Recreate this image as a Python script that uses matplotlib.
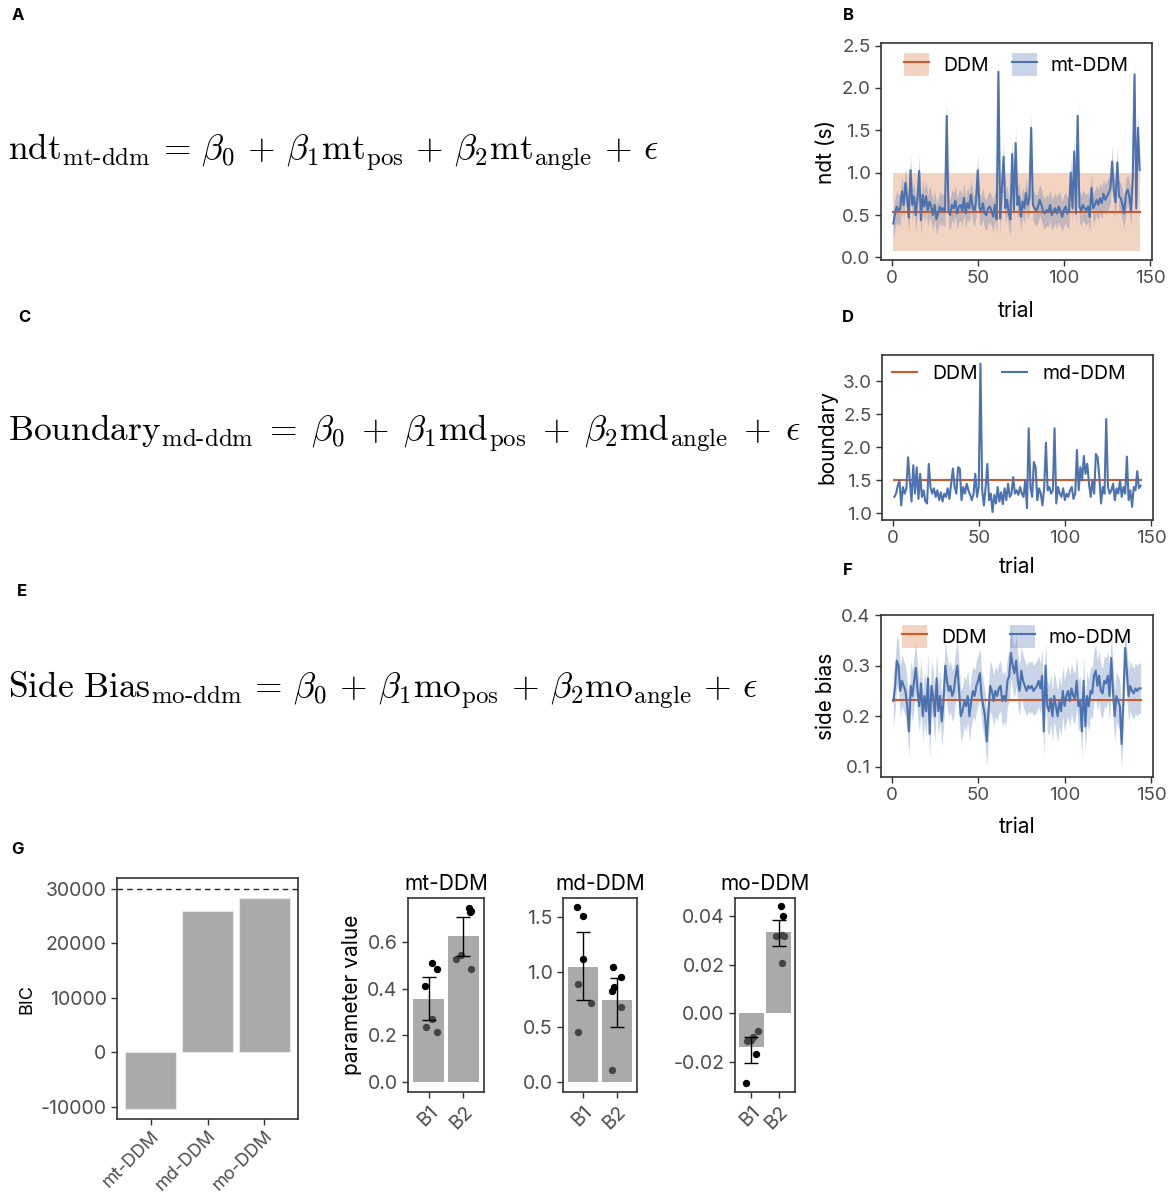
import numpy as np
import matplotlib.pyplot as plt
from matplotlib.patches import Patch
from matplotlib.lines import Line2D

plt.rcParams['font.family'] = ['Inter', 'DejaVu Sans']
plt.rcParams['mathtext.fontset'] = 'cm'
plt.rcParams['axes.unicode_minus'] = False

# ---------------- data ----------------
trials = np.arange(1, 145)

ndt_ddm = 0.54
ndt_ddm_lo, ndt_ddm_hi = 0.08, 1.0
ndt_mt = [0.40, 0.52, 0.60, 0.55, 0.58, 0.78, 0.62, 0.88, 0.70, 0.47,
          1.03, 0.62, 0.72, 0.50, 0.70, 1.02, 0.44, 0.74, 0.60, 0.72,
          0.55, 0.66, 0.60, 0.50, 0.62, 0.45, 0.52, 0.60, 0.55, 0.58,
          0.54, 1.67, 0.55, 0.50, 0.62, 0.58, 0.67, 0.52, 0.60, 0.62,
          0.55, 0.70, 0.52, 0.64, 0.58, 0.74, 0.60, 0.54, 0.66, 1.03,
          0.58, 0.55, 0.64, 0.52, 0.50, 0.58, 0.60, 0.55, 0.48, 0.62,
          0.45, 2.19, 0.46, 0.80, 1.19, 0.58, 0.68, 0.52, 0.45, 1.22,
          0.56, 1.35, 0.62, 0.72, 0.48, 0.66, 0.58, 0.76, 0.62, 0.70,
          1.53, 0.62, 0.58, 0.55, 0.60, 0.68, 0.62, 0.54, 0.52, 0.56,
          0.54, 0.62, 0.50, 0.55, 0.58, 0.52, 0.60, 0.55, 0.48, 0.56,
          0.60, 0.52, 0.55, 1.00, 0.58, 1.25, 0.52, 1.67, 0.60, 0.55,
          0.62, 0.58, 0.56, 0.60, 0.48, 0.82, 0.58, 0.62, 0.68, 0.62,
          0.70, 0.64, 0.75, 0.68, 0.72, 0.76, 0.82, 1.13, 0.78, 0.65,
          1.12, 0.72, 0.70, 0.62, 0.52, 0.75, 0.80, 0.72, 0.55, 0.96,
          2.16, 0.58, 1.53, 1.03]
ndt_mt_ci = 0.18

bound_ddm = 1.5
bound_md = [1.25, 1.30, 1.42, 1.50, 1.12, 1.40, 1.30, 1.38, 1.85, 1.50,
            1.18, 1.73, 1.30, 1.70, 1.22, 1.60, 1.25, 1.35, 1.18, 1.15,
            1.75, 1.40, 1.30, 1.38, 1.25, 1.35, 1.20, 1.32, 1.18, 1.30,
            1.25, 1.38, 1.22, 1.45, 1.68, 1.40, 1.30, 1.70, 1.68, 1.20,
            1.40, 1.30, 1.45, 1.35, 1.28, 1.20, 1.30, 1.60, 1.25, 1.40,
            3.27, 1.35, 1.12, 1.40, 1.75, 1.20, 1.30, 1.02, 1.28, 1.15,
            1.40, 1.18, 1.32, 1.14, 1.38, 1.20, 1.45, 1.25, 1.30, 1.55,
            1.30, 1.35, 1.28, 1.40, 1.30, 1.25, 1.50, 1.08, 2.29, 1.40,
            1.25, 1.78, 1.70, 1.20, 1.38, 1.30, 1.12, 1.40, 2.07, 1.35,
            1.40, 1.30, 1.35, 2.29, 1.15, 1.40, 1.30, 1.25, 1.38, 1.20,
            1.30, 1.25, 1.35, 1.40, 1.22, 1.30, 1.96, 1.35, 1.70, 1.50,
            1.87, 1.60, 1.75, 1.45, 1.25, 1.50, 1.30, 1.90, 1.85, 1.55,
            1.15, 1.40, 1.30, 2.43, 1.40, 1.30, 1.35, 1.45, 1.20, 1.38,
            1.30, 1.50, 1.25, 1.40, 1.30, 1.86, 1.20, 1.35, 1.10, 1.40,
            1.35, 1.64, 1.38, 1.42]

bias_ddm = 0.232
bias_mo = [0.23, 0.26, 0.31, 0.30, 0.25, 0.27, 0.26, 0.25, 0.22, 0.17,
           0.26, 0.24, 0.27, 0.295, 0.25, 0.22, 0.265, 0.20, 0.24, 0.21,
           0.275, 0.165, 0.26, 0.24, 0.20, 0.275, 0.21, 0.24, 0.19, 0.23,
           0.30, 0.27, 0.25, 0.26, 0.24, 0.25, 0.28, 0.30, 0.25, 0.20,
           0.21, 0.23, 0.22, 0.24, 0.20, 0.23, 0.25, 0.24, 0.26, 0.27,
           0.285, 0.24, 0.22, 0.20, 0.15, 0.21, 0.26, 0.25, 0.23, 0.25,
           0.24, 0.255, 0.26, 0.23, 0.24, 0.23, 0.27, 0.28, 0.325, 0.30,
           0.285, 0.31, 0.27, 0.25, 0.29, 0.27, 0.26, 0.25, 0.26, 0.255,
           0.26, 0.25, 0.255, 0.26, 0.27, 0.255, 0.28, 0.17, 0.30, 0.22,
           0.21, 0.235, 0.20, 0.24, 0.22, 0.20, 0.23, 0.21, 0.25, 0.22,
           0.24, 0.25, 0.23, 0.255, 0.24, 0.235, 0.27, 0.22, 0.23, 0.17,
           0.27, 0.18, 0.24, 0.22, 0.25, 0.245, 0.28, 0.29, 0.26, 0.28,
           0.25, 0.245, 0.27, 0.265, 0.28, 0.24, 0.315, 0.25, 0.20, 0.24,
           0.23, 0.22, 0.145, 0.23, 0.335, 0.29, 0.24, 0.26, 0.25, 0.245,
           0.255, 0.25, 0.255, 0.255]
bias_mo_ci = 0.05

models = ['mt-DDM', 'md-DDM', 'mo-DDM']
bic = [-10300, 26000, 28400]
bic_ref = 30000

params = ['B1', 'B2']
param_means = {'mt-DDM': [0.355, 0.628], 'md-DDM': [1.047, 0.745], 'mo-DDM': [-0.014, 0.0334]}
param_err_lo = {'mt-DDM': [0.268, 0.540], 'md-DDM': [0.745, 0.500], 'mo-DDM': [-0.0205, 0.0275]}
param_err_hi = {'mt-DDM': [0.452, 0.710], 'md-DDM': [1.365, 0.940], 'mo-DDM': [-0.0095, 0.0385]}
subj_vals = {
    'mt-DDM': [[0.51, 0.485, 0.413, 0.272, 0.235, 0.215],
               [0.745, 0.735, 0.728, 0.545, 0.527, 0.487]],
    'md-DDM': [[1.59, 1.51, 1.12, 0.89, 0.72, 0.45],
               [1.04, 0.95, 0.86, 0.83, 0.68, 0.11]],
    'mo-DDM': [[-0.0072, -0.0095, -0.0113, -0.011, -0.0168, -0.0285],
               [0.0443, 0.040, 0.0316, 0.0323, 0.0317, 0.0207]],
}
subj_jitter = {
    'mt-DDM': [[0.09, 0.23, -0.11, 0.10, -0.09, 0.23],
               [0.17, 0.22, 0.20, -0.07, -0.21, 0.22]],
    'md-DDM': [[-0.18, -0.02, 0.0, -0.16, 0.22, -0.16],
               [-0.10, 0.11, -0.08, -0.13, 0.11, -0.15]],
    'mo-DDM': [[0.24, 0.05, -0.17, 0.0, 0.16, -0.2],
               [0.07, 0.15, -0.10, 0.11, 0.20, 0.14]],
}
param_ylims = {'mt-DDM': (-0.043, 0.79), 'md-DDM': (-0.09, 1.67), 'mo-DDM': (-0.0323, 0.0474)}
param_ticks = {'mt-DDM': [0.0, 0.2, 0.4, 0.6], 'md-DDM': [0.0, 0.5, 1.0, 1.5],
               'mo-DDM': [-0.02, 0.0, 0.02, 0.04]}

# ---------------- style ----------------
W, H = 1174, 1195
BLUE = '#4C72B0'
ORANGE_LINE = '#CC5A2A'
ORANGE_FILL = '#DD8452'
BAR = '#727272'
SPINE = '#333333'
TICKC = '#4D4D4D'

fig = plt.figure(figsize=(W / 100, H / 100), dpi=100)


def px_axes(x0, y0, x1, y1):
    return fig.add_axes([x0 / W, 1 - y1 / H, (x1 - x0) / W, (y1 - y0) / H])


def style(ax, size=13.5):
    for s in ax.spines.values():
        s.set_color(SPINE)
        s.set_linewidth(1.2)
    ax.tick_params(colors=SPINE, labelcolor=TICKC, labelsize=size, length=4, width=1.0)


def ftext(x, y, s, **kw):
    fig.text(x / W, 1 - y / H, s, **kw)


# ---------------- panel letters & equations ----------------
for letter, (x, y) in {'A': (18, 15), 'B': (848, 15), 'C': (24, 318), 'D': (848, 318),
                       'E': (22, 591), 'F': (848, 571), 'G': (17, 849)}.items():
    ftext(x, y, letter, fontsize=12, fontweight='bold', ha='center', va='center')

eq_size = 25.5
ftext(8, 152, r'$\mathrm{ndt}_{\mathrm{mt\text{-}ddm}}\,=\,\beta_0\,+\,\beta_1\mathrm{mt}_{\mathrm{pos}}'
      r'\,+\,\beta_2\mathrm{mt}_{\mathrm{angle}}\,+\,\epsilon$', fontsize=eq_size, va='center')
ftext(8, 433, r'$\mathrm{Boundary}_{\mathrm{md\text{-}ddm}}\;=\;\beta_0\;+\;\beta_1\mathrm{md}_{\mathrm{pos}}'
      r'\;+\;\beta_2\mathrm{md}_{\mathrm{angle}}\;+\;\epsilon$', fontsize=eq_size, va='center')
ftext(8, 690, r'$\mathrm{Side\ Bias}_{\mathrm{mo\text{-}ddm}}\,=\,\beta_0\,+\,\beta_1\mathrm{mo}_{\mathrm{pos}}'
      r'\,+\,\beta_2\mathrm{mo}_{\mathrm{angle}}\,+\,\epsilon$', fontsize=eq_size, va='center')

# ---------------- time series ----------------
ndt_mt = np.array(ndt_mt)
bound_md = np.array(bound_md)
bias_mo = np.array(bias_mo)

leg_kw = dict(loc='upper center', ncol=2, frameon=False, fontsize=14,
              borderaxespad=0.1, bbox_to_anchor=(0.5, 1.0))

# B
ax = px_axes(881, 43, 1152, 260)
ax.fill_between(trials, ndt_ddm_lo, ndt_ddm_hi, color=ORANGE_FILL, alpha=0.35, lw=0)
ax.fill_between(trials, ndt_mt - ndt_mt_ci, ndt_mt + ndt_mt_ci, color=BLUE, alpha=0.3, lw=0)
ax.plot(trials, np.full(len(trials), ndt_ddm), color=ORANGE_LINE, lw=1.5)
ax.plot(trials, ndt_mt, color=BLUE, lw=1.5)
ax.set_xlim(-6.15, 151.15)
ax.set_ylim(-0.03, 2.53)
ax.set_yticks([0.0, 0.5, 1.0, 1.5, 2.0, 2.5])
ax.set_xticks([0, 50, 100, 150])
ax.set_xlabel('trial', fontsize=15, labelpad=10)
ax.set_ylabel('ndt (s)', fontsize=15)
style(ax)
h1 = (Patch(color=ORANGE_FILL, alpha=0.35, lw=0), Line2D([], [], color=ORANGE_LINE, lw=1.5))
h2 = (Patch(color=BLUE, alpha=0.3, lw=0), Line2D([], [], color=BLUE, lw=1.5))
ax.legend([h1, h2], ['DDM', 'mt-DDM'], handlelength=1.3, handleheight=1.5,
          handletextpad=0.7, columnspacing=1.2, **leg_kw)

# D
ax = px_axes(882, 355, 1153, 520)
ax.plot(trials, np.full(len(trials), bound_ddm), color=ORANGE_LINE, lw=1.5, label='DDM')
ax.plot(trials, bound_md, color=BLUE, lw=1.5, label='md-DDM')
ax.set_xlim(-6.15, 151.15)
ax.set_ylim(0.9, 3.4)
ax.set_yticks([1.0, 1.5, 2.0, 2.5, 3.0])
ax.set_xticks([0, 50, 100, 150])
ax.set_xlabel('trial', fontsize=15, labelpad=7)
ax.set_ylabel('boundary', fontsize=15)
style(ax)
ax.legend(loc='upper left', bbox_to_anchor=(0.0, 1.0), ncol=2, frameon=False, fontsize=14,
          borderaxespad=0.1, handlelength=1.3, handletextpad=0.8, columnspacing=1.2)

# F
ax = px_axes(881, 615, 1153, 777)
ax.fill_between(trials, bias_mo - bias_mo_ci, bias_mo + bias_mo_ci, color=BLUE, alpha=0.3, lw=0)
ax.plot(trials, np.full(len(trials), bias_ddm), color=ORANGE_LINE, lw=1.5)
ax.plot(trials, bias_mo, color=BLUE, lw=1.5)
ax.set_xlim(-6.15, 151.15)
ax.set_ylim(0.08, 0.4)
ax.set_yticks([0.1, 0.2, 0.3, 0.4])
ax.set_xticks([0, 50, 100, 150])
ax.set_xlabel('trial', fontsize=15, labelpad=9)
ax.set_ylabel('side bias', fontsize=15)
style(ax)
h2 = (Patch(color=BLUE, alpha=0.3, lw=0), Line2D([], [], color=BLUE, lw=1.5))
ax.legend([h1, h2], ['DDM', 'mo-DDM'], handlelength=1.3, handleheight=1.5,
          handletextpad=0.7, columnspacing=1.2, **leg_kw)

# ---------------- G: BIC ----------------
ax = px_axes(117, 878, 298, 1119)
xpos = np.arange(1, len(models) + 1)
ax.bar(xpos, bic, width=0.9, color='#AAAAAA', edgecolor='#E8E8E8', lw=0.8)
ax.axhline(bic_ref, color='#222222', ls=(0, (4, 3)), lw=1.0)
ax.set_xlim(0.41, 3.59)
ax.set_ylim(-12200, 32000)
ax.set_yticks([-10000, 0, 10000, 20000, 30000])
ax.set_xticks(xpos)
ax.set_xticklabels(models, rotation=45, ha='right', rotation_mode='anchor')
ax.set_ylabel('BIC', fontsize=13)
style(ax, 14)
ax.tick_params(axis='x', labelsize=13, pad=2)

# ---------------- parameter panels ----------------
boxes = {'mt-DDM': (408, 898, 484, 1092), 'md-DDM': (563, 898, 637, 1092),
         'mo-DDM': (735, 898, 795, 1092)}
for m in models:
    ax = px_axes(*boxes[m])
    px = np.arange(1, len(params) + 1)
    for i in range(len(params)):
        ax.scatter(px[i] + np.array(subj_jitter[m][i]), subj_vals[m][i], s=28,
                   color='black', zorder=1, lw=0)
    ax.bar(px, param_means[m], width=0.9, color=BAR, alpha=0.6, zorder=2, lw=0)
    lo = np.array(param_means[m]) - np.array(param_err_lo[m])
    hi = np.array(param_err_hi[m]) - np.array(param_means[m])
    ax.errorbar(px, param_means[m], yerr=[lo, hi], fmt='none', ecolor='black',
                elinewidth=1.0, capsize=5, capthick=1.0, zorder=3)
    ax.set_xlim(0.4, 2.6)
    ax.set_ylim(*param_ylims[m])
    ax.set_yticks(param_ticks[m])
    if m == 'mo-DDM':
        ax.set_yticklabels(['-0.02', '0.00', '0.02', '0.04'])
    ax.set_xticks(px)
    ax.set_xticklabels(params, rotation=45, ha='right', rotation_mode='anchor')
    ax.set_title(m, fontsize=15, pad=6)
    if m == 'mt-DDM':
        ax.set_ylabel('parameter value', fontsize=15)
    style(ax, 14)

fig.savefig('out.png', dpi=100)
